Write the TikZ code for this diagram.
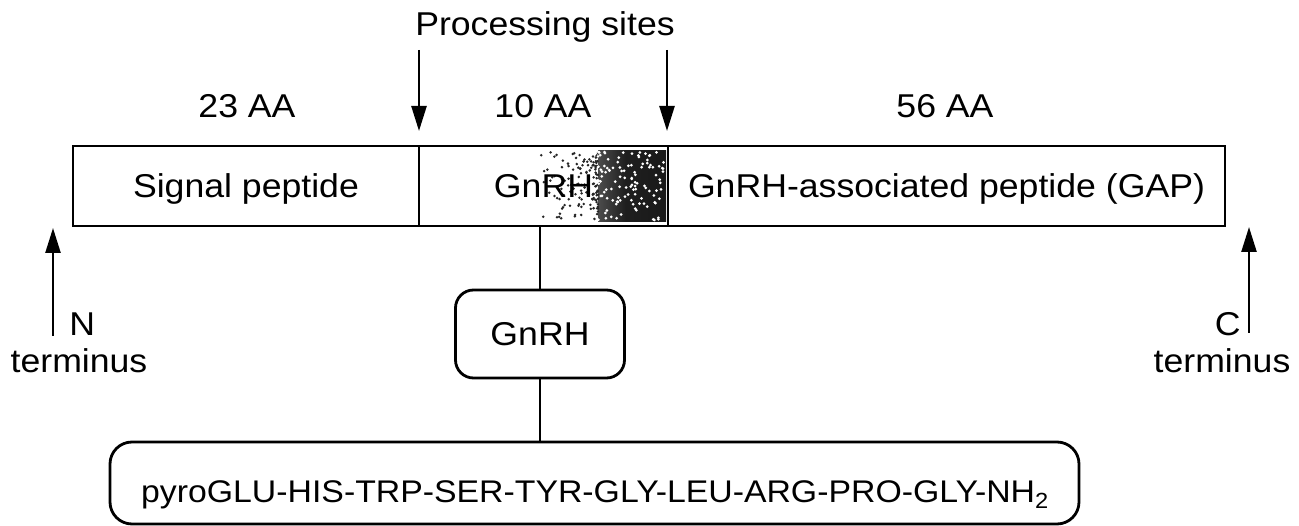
\documentclass[tikz,border=0pt]{standalone}
\usepackage{fontspec}
\setmainfont{Liberation Sans}[FakeStretch=1.08]
\usetikzlibrary{arrows.meta}
\pgfdeclarehorizontalshading{speckle}{100bp}{color(0bp)=(black!35); color(25bp)=(black!70); color(45bp)=(black!88); color(100bp)=(black!92)}
\begin{document}
\begin{tikzpicture}[x=1pt,y=-1pt,line width=2.8pt,
  txt/.style={font=\fontsize{33}{38}\selectfont, inner sep=0pt},
  cell/.style={draw, txt, minimum height=80pt, text height=24pt, text depth=0pt},
  rbox/.style={draw, txt, rounded corners=18pt, text height=24pt, text depth=0pt},
  arr/.style={-{Triangle[length=25pt,width=15pt]}, line width=2.4pt}]
\useasboundingbox (0,0) rectangle (1299,526);
% shaded part of GnRH cell
\shade[shading=speckle] (598,151) rectangle (666,222);
\pgfmathsetseed{11}
\foreach \i in {1,...,130}{
  \pgfmathsetmacro\rx{598-58*rnd^2.2}
  \pgfmathsetmacro\ry{152+68*rnd}
  \fill[black!85] (\rx,\ry) circle (1.4pt);
}
\foreach \i in {1,...,110}{
  \pgfmathsetmacro\rx{598+66*rnd}
  \pgfmathsetmacro\ry{152+68*rnd}
  \fill[white] (\rx,\ry) circle (1.5pt);
}
% main bar
\node[cell, minimum width=346pt] (sig) at (246,186) {Signal peptide};
\node[cell, minimum width=249pt] (gn) at (543.5,186) {GnRH};
\node[cell, minimum width=557pt] (gap) at (946.5,186) {GnRH-associated peptide (GAP)};
% lengths
\node[txt, anchor=base] (l23) at (247,118) {23 AA};
\node[txt, anchor=base] (l10) at (543,118) {10 AA};
\node[txt, anchor=base] (l56) at (945,118) {56 AA};
% processing sites
\node[txt, anchor=base] (ps) at (545,36) {Processing sites};
\coordinate (p1a) at (419,50);
\coordinate (p1b) at (419,131);
\coordinate (p2a) at (667,50);
\coordinate (p2b) at (667,131);
\draw[arr] (p1a) -- (p1b);
\draw[arr] (p2a) -- (p2b);
% GnRH box and peptide box
\node[rbox, minimum width=169pt, minimum height=88pt] (gbox) at (540,334) {GnRH};
\draw (gbox.north) -- (gbox.north |- gn.south);
\node[draw, rounded corners=22pt, minimum width=969pt, minimum height=82pt, inner sep=0pt] (pep) at (594.5,483) {};
\node[txt, font=\fontsize{31.3}{36}\selectfont, anchor=base] (peptxt) at (595,502) {pyroGLU-HIS-TRP-SER-TYR-GLY-LEU-ARG-PRO-GLY-NH\textsubscript{2}};
\draw (gbox.south) -- (gbox.south |- pep.north);
% termini
\coordinate (na) at (53,336);
\coordinate (nb) at (53,228);
\draw[arr] (na) -- (nb);
\node[txt, anchor=base west] (nl) at (68,336) {N};
\node[txt, anchor=base] (nt) at (79,373) {terminus};
\coordinate (ca) at (1249,333);
\coordinate (cb) at (1249,227);
\draw[arr] (ca) -- (cb);
\node[txt, anchor=base east] (cl) at (1242,336) {C};
\node[txt, anchor=base] (ct) at (1222,373) {terminus};
\end{tikzpicture}
\end{document}
